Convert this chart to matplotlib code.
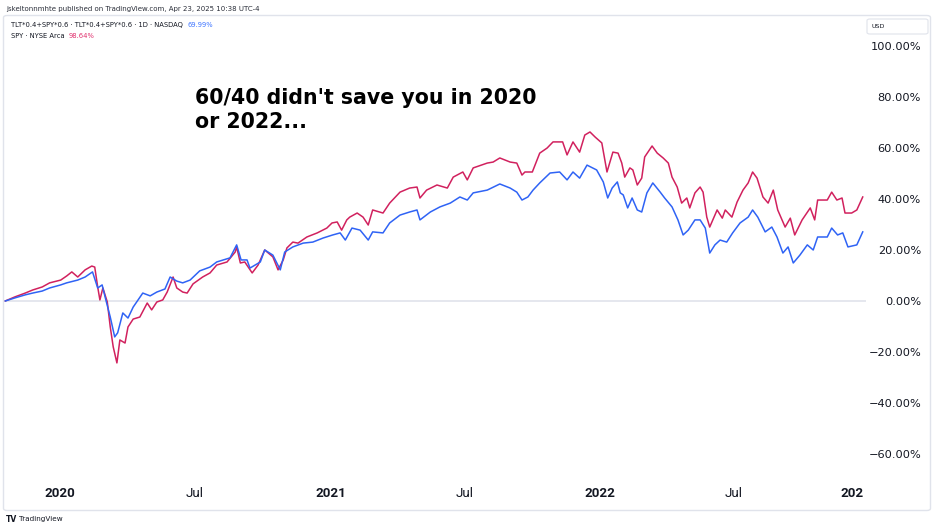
import matplotlib
matplotlib.use("Agg")
import matplotlib.pyplot as plt
import matplotlib.dates as mdates
from matplotlib.patches import FancyBboxPatch
import pandas as pd

# ---------------- data ----------------
spy_dates = [
    "2019-10-19", "2019-11-01", "2019-11-15", "2019-11-25", "2019-12-08", "2019-12-18",
    "2020-01-02", "2020-01-10", "2020-01-17", "2020-01-25", "2020-02-04", "2020-02-13",
    "2020-02-17", "2020-02-21", "2020-02-24", "2020-02-28", "2020-03-05", "2020-03-09",
    "2020-03-13", "2020-03-18", "2020-03-22", "2020-03-29", "2020-04-02", "2020-04-09",
    "2020-04-18", "2020-04-28", "2020-05-04", "2020-05-11", "2020-05-19", "2020-05-25",
    "2020-06-02", "2020-06-07", "2020-06-15", "2020-06-21", "2020-06-29", "2020-07-12",
    "2020-07-22", "2020-07-31", "2020-08-14", "2020-08-25", "2020-08-27", "2020-09-01",
    "2020-09-07", "2020-09-17", "2020-09-25", "2020-10-04", "2020-10-15", "2020-10-22",
    "2020-10-29", "2020-11-03", "2020-11-11", "2020-11-18", "2020-11-30", "2020-12-14",
    "2020-12-27", "2021-01-03", "2021-01-10", "2021-01-16", "2021-01-23", "2021-01-27",
    "2021-02-06", "2021-02-14", "2021-02-21", "2021-02-27", "2021-03-13", "2021-03-22",
    "2021-04-05", "2021-04-18", "2021-04-28", "2021-05-02", "2021-05-11", "2021-05-25",
    "2021-06-08", "2021-06-16", "2021-06-29", "2021-07-05", "2021-07-13", "2021-08-01",
    "2021-08-09", "2021-08-18", "2021-09-01", "2021-09-10", "2021-09-17", "2021-09-21",
    "2021-10-01", "2021-10-11", "2021-10-21", "2021-10-29", "2021-11-11", "2021-11-17",
    "2021-11-25", "2021-12-04", "2021-12-11", "2021-12-18", "2021-12-25", "2022-01-03",
    "2022-01-10", "2022-01-18", "2022-01-25", "2022-01-30", "2022-02-03", "2022-02-10",
    "2022-02-14", "2022-02-20", "2022-02-26", "2022-03-02", "2022-03-12", "2022-03-19",
    "2022-03-27", "2022-04-03", "2022-04-08", "2022-04-15", "2022-04-21", "2022-04-28",
    "2022-05-02", "2022-05-09", "2022-05-16", "2022-05-20", "2022-05-25", "2022-05-29",
    "2022-06-08", "2022-06-15", "2022-06-19", "2022-06-28", "2022-07-05", "2022-07-13",
    "2022-07-20", "2022-07-26", "2022-08-01", "2022-08-09", "2022-08-16", "2022-08-23",
    "2022-08-29", "2022-09-08", "2022-09-15", "2022-09-21", "2022-10-01", "2022-10-12",
    "2022-10-18", "2022-10-22", "2022-11-04", "2022-11-10", "2022-11-17", "2022-11-24",
    "2022-11-28", "2022-12-07", "2022-12-14", "2022-12-22",
]
spy_pct = [
    0.0, 1.6, 3.1, 4.3, 5.5, 7.1,
    8.2, 9.8, 11.4, 9.4, 12.2, 13.7,
    13.3, 5.5, 0.4, 5.1, -0.4, -10.2,
    -18.0, -24.3, -15.3, -16.5, -10.2, -7.1,
    -6.3, -0.8, -3.5, -0.4, 0.4, 3.5,
    9.4, 5.1, 3.5, 3.1, 6.7, 9.4,
    11.0, 14.1, 15.3, 19.2, 21.2, 14.9,
    15.3, 11.0, 14.1, 20.0, 17.3, 12.2,
    16.1, 20.8, 23.1, 22.7, 25.1, 26.7,
    28.6, 30.6, 31.0, 27.8, 31.8, 32.9,
    34.5, 32.9, 29.8, 35.7, 34.5, 38.4,
    42.7, 44.3, 44.7, 40.4, 43.5, 45.5,
    44.3, 48.6, 50.6, 47.5, 52.2, 54.1,
    54.5, 56.1, 54.5, 54.1, 49.4, 50.6,
    50.6, 58.0, 60.0, 62.4, 62.4, 57.3,
    62.4, 58.4, 65.1, 66.3, 64.3, 62.0,
    50.6, 58.4, 58.0, 54.1, 48.6, 52.2,
    51.4, 45.5, 48.2, 56.5, 60.8, 58.0,
    56.1, 54.1, 48.6, 44.7, 38.4, 40.4,
    36.5, 42.4, 44.7, 42.7, 32.9, 29.0,
    35.7, 32.5, 35.7, 32.9, 38.8, 43.5,
    46.3, 50.6, 48.2, 40.8, 38.4, 43.5,
    35.7, 29.0, 32.5, 25.9, 31.8, 36.5,
    31.8, 39.6, 39.6, 42.7, 39.6, 40.4,
    34.5, 34.5, 35.7, 40.8,
]

mix_dates = [
    "2019-10-19", "2019-11-01", "2019-11-15", "2019-11-25", "2019-12-08", "2019-12-18",
    "2020-01-02", "2020-01-10", "2020-01-25", "2020-02-04", "2020-02-14", "2020-02-21",
    "2020-02-27", "2020-03-02", "2020-03-09", "2020-03-15", "2020-03-19", "2020-03-26",
    "2020-04-02", "2020-04-09", "2020-04-22", "2020-05-02", "2020-05-11", "2020-05-22",
    "2020-05-29", "2020-06-07", "2020-06-15", "2020-06-25", "2020-07-08", "2020-07-22",
    "2020-07-31", "2020-08-18", "2020-08-27", "2020-09-02", "2020-09-10", "2020-09-14",
    "2020-09-21", "2020-09-28", "2020-10-04", "2020-10-15", "2020-10-25", "2020-10-31",
    "2020-11-11", "2020-11-25", "2020-12-08", "2020-12-22", "2021-01-04", "2021-01-14",
    "2021-01-21", "2021-01-30", "2021-02-10", "2021-02-21", "2021-02-27", "2021-03-13",
    "2021-03-22", "2021-04-05", "2021-04-18", "2021-04-28", "2021-05-02", "2021-05-16",
    "2021-05-29", "2021-06-12", "2021-06-25", "2021-07-05", "2021-07-13", "2021-08-01",
    "2021-08-18", "2021-09-01", "2021-09-10", "2021-09-17", "2021-09-25", "2021-10-02",
    "2021-10-11", "2021-10-25", "2021-11-07", "2021-11-17", "2021-11-25", "2021-12-04",
    "2021-12-14", "2021-12-27", "2022-01-05", "2022-01-11", "2022-01-17", "2022-01-24",
    "2022-01-28", "2022-02-01", "2022-02-07", "2022-02-13", "2022-02-20", "2022-02-26",
    "2022-03-05", "2022-03-13", "2022-03-23", "2022-03-29", "2022-04-08", "2022-04-16",
    "2022-04-23", "2022-04-30", "2022-05-09", "2022-05-16", "2022-05-23", "2022-05-29",
    "2022-06-05", "2022-06-12", "2022-06-21", "2022-06-29", "2022-07-09", "2022-07-20",
    "2022-07-26", "2022-08-02", "2022-08-12", "2022-08-21", "2022-08-28", "2022-09-05",
    "2022-09-12", "2022-09-19", "2022-09-28", "2022-10-08", "2022-10-16", "2022-10-22",
    "2022-11-04", "2022-11-10", "2022-11-18", "2022-11-25", "2022-12-02", "2022-12-14",
    "2022-12-22",
]
mix_pct = [
    0.0, 1.2, 2.4, 3.1, 3.9, 5.1,
    6.3, 7.1, 8.2, 9.4, 11.4, 5.1,
    6.3, 1.6, -6.3, -14.1, -12.5, -4.7,
    -6.7, -2.4, 3.1, 2.0, 3.5, 4.7,
    9.4, 7.8, 7.1, 8.2, 11.8, 13.3,
    15.3, 16.9, 22.0, 16.1, 16.1, 12.9,
    14.1, 15.3, 20.0, 18.0, 12.2, 19.2,
    21.2, 22.7, 23.1, 24.7, 25.9, 26.7,
    23.9, 28.6, 27.8, 23.9, 27.1, 26.7,
    30.6, 33.7, 34.9, 35.7, 31.8, 34.9,
    36.9, 38.4, 40.8, 39.6, 42.4, 43.5,
    45.9, 44.3, 42.7, 39.6, 40.8, 43.5,
    46.3, 50.2, 50.6, 47.5, 50.6, 48.2,
    53.3, 51.4, 46.7, 40.4, 44.3, 46.7,
    42.4, 41.6, 36.5, 40.4, 35.7, 34.9,
    42.4, 46.3, 42.7, 40.4, 36.9, 31.8,
    25.9, 27.8, 31.8, 31.8, 28.6, 18.8,
    22.0, 23.9, 23.1, 26.7, 30.6, 32.9,
    35.7, 32.9, 27.1, 29.0, 25.1, 18.8,
    21.2, 14.9, 18.0, 22.0, 20.0, 25.1,
    25.1, 28.6, 25.9, 26.7, 21.2, 22.0,
    27.1,
]

price_ticks = [100, 80, 60, 40, 20, 0, -20, -40, -60]
time_ticks = ["2020-01-01", "2020-07-01", "2021-01-01", "2021-07-01",
              "2022-01-01", "2022-07-01", "2023-01-03"]
time_labels = ["2020", "Jul", "2021", "Jul", "2022", "Jul", "2023"]
time_bold = [True, False, True, False, True, False, True]

mix_name = "TLT*0.4+SPY*0.6 · TLT*0.4+SPY*0.6 · 1D · NASDAQ"
mix_last = "69.99%"
spy_name = "SPY · NYSE Arca"
spy_last = "98.64%"
header = "jskeltonnmhte published on TradingView.com, Apr 23, 2025 10:38 UTC-4"
title = "60/40 didn't save you in 2020\nor 2022..."

assert len(spy_dates) == len(spy_pct)
assert len(mix_dates) == len(mix_pct)

# ---------------- styling ----------------
RED = "#d1215e"
BLUE = "#2f63f5"
TXT = "#131722"
GRID = "#e0e3eb"

W, H = 936, 532
fig = plt.figure(figsize=(W / 100, H / 100), dpi=100)
fig.patch.set_facecolor("white")


def fx(px):
    return px / W


def fy(py):
    return 1 - py / H


x0, x1 = 4, 866
ax = fig.add_axes([fx(x0), fy(472), fx(x1) - fx(x0), fy(16) - fy(472)])
xlim = (mdates.date2num(pd.Timestamp("2019-10-17 06:00")),
        mdates.date2num(pd.Timestamp("2022-12-26 10:00")))
ax.set_xlim(*xlim)
ax.set_ylim(-67.1, 111.8)
for s in ax.spines.values():
    s.set_visible(False)
ax.axhline(0, color=GRID, lw=1.2, zorder=1)

ax.plot(pd.to_datetime(spy_dates), spy_pct, color=RED, lw=1.1, zorder=3,
        solid_joinstyle="round")
ax.plot(pd.to_datetime(mix_dates), mix_pct, color=BLUE, lw=1.1, zorder=4,
        solid_joinstyle="round")

ax.set_xticks([])
ax.yaxis.tick_right()
ax.set_yticks(price_ticks)
ax.set_yticklabels([f"{v:.2f}%".replace("-", "\u2212") for v in price_ticks])
ax.tick_params(axis="y", length=0, pad=39.6, labelsize=8.2, labelcolor=TXT)
for lab in ax.get_yticklabels():
    lab.set_horizontalalignment("right")

# time axis (clipped a little before the price scale, like the reference)
tx1 = 863
tax = fig.add_axes([fx(x0), fy(510), fx(tx1) - fx(x0), fy(472) - fy(510)])
span = xlim[1] - xlim[0]
tax.set_xlim(xlim[0], xlim[0] + span * (tx1 - x0) / (x1 - x0))
tax.set_ylim(0, 1)
tax.axis("off")
for d, lab, b in zip(time_ticks, time_labels, time_bold):
    ha = "right" if d == time_ticks[-1] else "center"
    tax.text(mdates.date2num(pd.Timestamp(d)), 0.44, lab, ha=ha, va="center",
             fontsize=9.6, family="Roboto", fontweight="bold" if b else "normal",
             color=TXT, clip_on=True)

# frame
frame = FancyBboxPatch((fx(3.5), fy(510.5)), fx(930.5) - fx(3.5), fy(15.5) - fy(510.5),
                       boxstyle="round,pad=0,rounding_size=0.004",
                       transform=fig.transFigure, fc="none", ec=GRID, lw=1.0)
fig.add_artist(frame)

# USD box
usd = FancyBboxPatch((fx(867), fy(34)), fx(928) - fx(867), fy(19) - fy(34),
                     boxstyle="round,pad=0,rounding_size=0.003",
                     transform=fig.transFigure, fc="white", ec=GRID, lw=0.8)
fig.add_artist(usd)
fig.text(fx(872), fy(26.5), "USD", fontsize=4.6, color=TXT, va="center", ha="left")

# header
fig.text(fx(6), fy(8.5), header, fontsize=5.0, color="#2a2e39", va="center", ha="left")

# legend
t1 = fig.text(fx(11), fy(25), mix_name, fontsize=4.9, color=TXT, va="center", ha="left")
ax.annotate(mix_last, xy=(1, 0.5), xycoords=t1, xytext=(3, 0),
            textcoords="offset points", fontsize=4.9, color="#3d74ff",
            va="center", ha="left", annotation_clip=False)
t2 = fig.text(fx(11), fy(36), spy_name, fontsize=4.9, color=TXT, va="center", ha="left")
ax.annotate(spy_last, xy=(1, 0.5), xycoords=t2, xytext=(3, 0),
            textcoords="offset points", fontsize=4.9, color="#e0316e",
            va="center", ha="left", annotation_clip=False)

# annotation
fig.text(fx(195), fy(88.5), title, fontsize=14.8, fontweight="bold",
         family="DejaVu Sans", color="#000000", va="top", ha="left", linespacing=1.25)

# TradingView logo
tv = fig.text(fx(6), fy(519.5), "TV", fontsize=5.5, fontweight="bold", color=TXT,
              va="center", ha="left")
ax.annotate("TradingView", xy=(1, 0.5), xycoords=tv, xytext=(1, 0),
            textcoords="offset points", fontsize=5.2, color=TXT, va="center",
            ha="left", annotation_clip=False)

fig.savefig("out.png", dpi=100, facecolor="white")
